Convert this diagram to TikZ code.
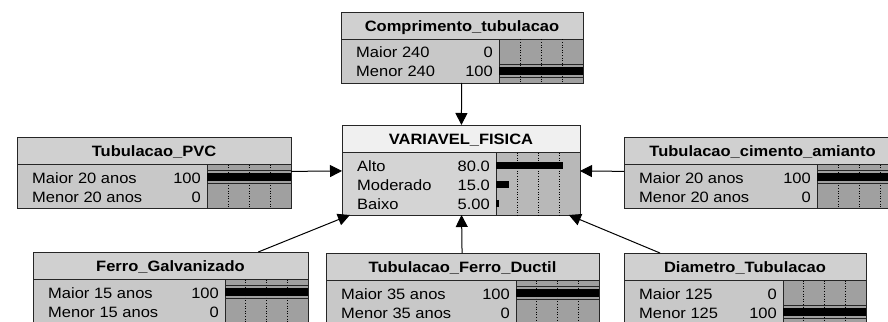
\documentclass[tikz,border=0pt]{standalone}
\usepackage{fontspec}
\setmainfont[FakeStretch=1.1]{Liberation Sans}
\usetikzlibrary{arrows.meta}
\definecolor{hdrA}{HTML}{D0D0D0}
\definecolor{bodyA}{HTML}{C8C8C8}
\definecolor{barA}{HTML}{A0A0A0}
\definecolor{hdrB}{HTML}{F0F0F0}
\definecolor{bodyB}{HTML}{D4D4D4}
\definecolor{barB}{HTML}{B8B8B8}
\tikzset{
  outerbox/.style={draw=none, rectangle, inner sep=0pt, outer sep=0pt},
  boxline/.style={draw=black!85, line width=0.8pt},
  gridline/.style={black, line width=0.6pt, dotted},
  barline/.style={black!85, line width=0.6pt},
  statetext/.style={inner sep=0pt, font=\fontsize{15}{18}\selectfont},
  titletext/.style={inner sep=0pt, anchor=base, font=\fontsize{15}{18}\selectfont\bfseries},
  conn/.style={draw=black, line width=1pt, -{Triangle[length=12pt,width=12pt]}}
}
\newcommand{\bnbox}[8]{%
  \pgfmathsetmacro{\bL}{#2}\pgfmathsetmacro{\bR}{#3}\pgfmathsetmacro{\bT}{#4}%
  \pgfmathsetmacro{\bH}{#4+27.5}%
  \pgfmathsetmacro{\bB}{\bH+5.5+19*#5}%
  \pgfmathsetmacro{\bS}{#6}%
  \pgfmathsetmacro{\bW}{#3-#2}%
  \pgfmathsetmacro{\bHt}{\bB-#4}%
  \node[outerbox, minimum width=\bW pt, minimum height=\bHt pt] (#1) at ({(\bL+\bR)/2},{(\bT+\bB)/2}) {};
  \draw[boxline, fill=hdr#8] (\bL,\bT) rectangle (\bR,\bH);
  \draw[boxline, fill=body#8] (\bL,\bH) rectangle (\bS,\bB);
  \draw[boxline, fill=bar#8] (\bS,\bH) rectangle (\bR,\bB);
  \foreach \k in {1,2,3}{\draw[gridline] ({\bS+\k*(\bR-\bS)/4},\bH) -- ({\bS+\k*(\bR-\bS)/4},\bB);}
  \node[titletext] at ({(\bL+\bR)/2},{(\bT+\bH)/2+5.5}) {#7};
}
\newcommand{\bnrow}[3]{%
  \pgfmathsetmacro{\rc}{\bH+13+19*#1}%
  \node[statetext, anchor=base west] at ({\bL+15},{\rc+5.5}) {#2};
  \node[statetext, anchor=base east] at ({\bS-6},{\rc+5.5}) {#3};
}
\newcommand{\fullbar}{%
  \fill[black] (\bS,{\rc-5}) rectangle (\bR,{\rc+3});
  \draw[barline] (\bS,{\rc-7}) -- (\bR,{\rc-7});
  \draw[barline] (\bS,{\rc+6}) -- (\bR,{\rc+6});
}
\newcommand{\pbar}[1]{%
  \fill[black] (\bS,{\rc-3.5}) rectangle ({\bS+#1/100*(\bR-\bS)},{\rc+3.5});
}
\begin{document}
\begin{tikzpicture}[x=1pt,y=-1pt]
\useasboundingbox (0,0) rectangle (888,321);
\clip (0,0) rectangle (888,321);
% Comprimento
\bnbox{top}{341}{583}{12}{2}{499}{Comprimento\_tubulacao}{A}
\bnrow{0}{Maior 240}{0}
\bnrow{1}{Menor 240}{100}\fullbar
% central
\bnbox{central}{342}{580}{125}{3}{496}{VARIAVEL\_FISICA}{B}
\bnrow{0}{Alto}{80.0}\pbar{80}
\bnrow{1}{Moderado}{15.0}\pbar{15}
\bnrow{2}{Baixo}{5.00}\pbar{3}
% PVC
\bnbox{pvc}{17}{291}{137}{2}{207}{Tubulacao\_PVC}{A}
\bnrow{0}{Maior 20 anos}{100}\fullbar
\bnrow{1}{Menor 20 anos}{0}
% cimento
\bnbox{cim}{624}{901}{137}{2}{817}{Tubulacao\_cimento\_amianto}{A}
\bnrow{0}{Maior 20 anos}{100}\fullbar
\bnrow{1}{Menor 20 anos}{0}
% Ferro galvanizado
\bnbox{fg}{33}{308}{252}{2}{225}{Ferro\_Galvanizado}{A}
\bnrow{0}{Maior 15 anos}{100}\fullbar
\bnrow{1}{Menor 15 anos}{0}
% Ferro ductil
\bnbox{fd}{326}{599}{253}{2}{516}{Tubulacao\_Ferro\_Ductil}{A}
\bnrow{0}{Maior 35 anos}{100}\fullbar
\bnrow{1}{Menor 35 anos}{0}
% Diametro
\bnbox{dt}{624}{866}{253}{2}{783}{Diametro\_Tubulacao}{A}
\bnrow{0}{Maior 125}{0}
\bnrow{1}{Menor 125}{100}\fullbar
% connectors
\draw[conn] (top) -- (central);
\draw[conn] (pvc) -- (central);
\draw[conn] (cim) -- (central);
\draw[conn] (fg) -- (central);
\draw[conn] (fd) -- (central);
\draw[conn] (dt) -- (central);
\end{tikzpicture}
\end{document}
